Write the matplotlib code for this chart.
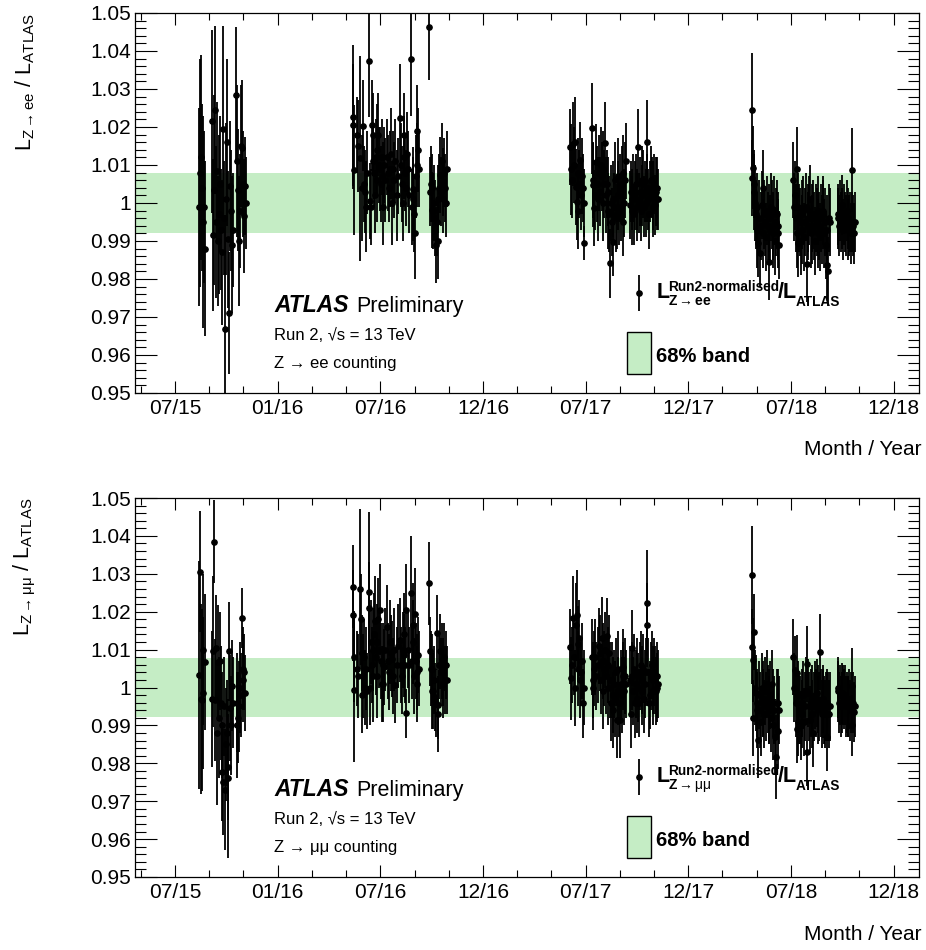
import matplotlib
matplotlib.use('Agg')
import matplotlib.pyplot as plt
from matplotlib.patches import Rectangle

plt.rcParams['font.family'] = ['Liberation Sans', 'DejaVu Sans']
plt.rcParams['mathtext.fontset'] = 'custom'
plt.rcParams['mathtext.rm'] = 'Liberation Sans'
plt.rcParams['mathtext.it'] = 'Liberation Sans'
plt.rcParams['mathtext.bf'] = 'Liberation Sans:bold'

# ---------------- data: (decimal year, ratio, uncertainty) ----------------
ee_2015 = [
    (2015.617, 0.9989, 0.026), (2015.622, 1.0080, 0.030), (2015.627, 1.0120, 0.027),
    (2015.632, 1.0040, 0.022), (2015.636, 0.9950, 0.028), (2015.641, 0.9990, 0.020),
    (2015.646, 0.9880, 0.023), (2015.680, 1.0215, 0.024), (2015.685, 0.9915, 0.020),
    (2015.690, 1.0035, 0.025), (2015.695, 1.0245, 0.022), (2015.700, 0.9950, 0.020),
    (2015.705, 1.0085, 0.018), (2015.709, 0.9900, 0.017), (2015.714, 0.9970, 0.021),
    (2015.719, 1.0050, 0.018), (2015.724, 0.9930, 0.016), (2015.729, 0.9870, 0.019),
    (2015.734, 1.0195, 0.027), (2015.739, 0.9960, 0.015), (2015.744, 0.9668, 0.030),
    (2015.748, 1.0010, 0.020), (2015.753, 1.0160, 0.022), (2015.758, 0.9905, 0.018),
    (2015.763, 0.9710, 0.016), (2015.768, 1.0045, 0.017), (2015.773, 0.9980, 0.016),
    (2015.778, 0.9890, 0.018), (2015.783, 0.9930, 0.015), (2015.797, 1.0283, 0.018),
    (2015.802, 1.0110, 0.020), (2015.807, 1.0035, 0.016), (2015.812, 0.9900, 0.017),
    (2015.817, 0.9980, 0.015), (2015.821, 1.0150, 0.016), (2015.826, 1.0145, 0.018),
    (2015.831, 1.0050, 0.014), (2015.836, 0.9965, 0.015), (2015.841, 1.0045, 0.013),
    (2015.846, 1.0000, 0.012),
]
ee_2016 = [
    (2016.365, 1.0227, 0.019), (2016.369, 1.0205, 0.016), (2016.372, 1.0087, 0.017),
    (2016.385, 1.0179, 0.010), (2016.393, 1.0150, 0.012), (2016.401, 1.0118, 0.027),
    (2016.409, 1.0040, 0.014), (2016.417, 1.0203, 0.012), (2016.422, 1.0050, 0.010),
    (2016.426, 1.0030, 0.011), (2016.430, 0.9990, 0.012), (2016.437, 1.0080, 0.011),
    (2016.445, 1.0375, 0.015), (2016.450, 1.0004, 0.010), (2016.454, 0.9990, 0.010),
    (2016.458, 1.0205, 0.012), (2016.462, 1.0110, 0.010), (2016.466, 1.0180, 0.011),
    (2016.470, 1.0080, 0.009), (2016.474, 1.0020, 0.010), (2016.478, 1.0120, 0.010),
    (2016.482, 1.0060, 0.011), (2016.486, 1.0140, 0.012), (2016.490, 1.0180, 0.011),
    (2016.494, 1.0100, 0.010), (2016.499, 1.0090, 0.011), (2016.503, 1.0050, 0.010),
    (2016.507, 1.0120, 0.010), (2016.511, 1.0070, 0.009), (2016.515, 0.9990, 0.010),
    (2016.520, 1.0100, 0.010), (2016.525, 1.0060, 0.011), (2016.531, 1.0120, 0.010),
    (2016.536, 1.0080, 0.010), (2016.541, 1.0040, 0.009), (2016.547, 1.0090, 0.010),
    (2016.551, 1.0130, 0.012), (2016.556, 1.0000, 0.011), (2016.560, 1.0090, 0.010),
    (2016.565, 1.0060, 0.010), (2016.572, 1.0110, 0.011), (2016.580, 1.0020, 0.012),
    (2016.588, 1.0070, 0.010), (2016.596, 1.0225, 0.014), (2016.600, 1.0100, 0.011),
    (2016.604, 1.0050, 0.010), (2016.609, 1.0000, 0.010), (2016.613, 1.0120, 0.011),
    (2016.617, 1.0180, 0.011), (2016.621, 1.0080, 0.010), (2016.625, 1.0040, 0.010),
    (2016.629, 1.0130, 0.011), (2016.633, 1.0090, 0.010), (2016.641, 1.0020, 0.010),
    (2016.650, 1.0380, 0.015), (2016.654, 0.9990, 0.010), (2016.658, 1.0010, 0.011),
    (2016.661, 1.0038, 0.011), (2016.665, 0.9970, 0.010), (2016.669, 0.9920, 0.012),
    (2016.673, 1.0070, 0.011), (2016.677, 1.0190, 0.012), (2016.681, 1.0100, 0.011),
    (2016.685, 1.0140, 0.011), (2016.689, 1.0090, 0.010), (2016.737, 1.0464, 0.014),
    (2016.742, 1.0030, 0.009), (2016.746, 1.0050, 0.010), (2016.750, 0.9982, 0.010),
    (2016.754, 1.0040, 0.009), (2016.758, 0.9980, 0.010), (2016.762, 1.0000, 0.010),
    (2016.766, 0.9960, 0.010), (2016.770, 0.9890, 0.010), (2016.775, 0.9950, 0.009),
    (2016.779, 1.0010, 0.009), (2016.783, 0.9900, 0.010), (2016.787, 1.0040, 0.009),
    (2016.791, 1.0075, 0.010), (2016.795, 1.0030, 0.009), (2016.799, 1.0110, 0.010),
    (2016.803, 1.0010, 0.009), (2016.807, 1.0055, 0.009), (2016.811, 1.0080, 0.009),
    (2016.815, 1.0040, 0.009), (2016.819, 1.0000, 0.009), (2016.823, 1.0090, 0.010),
]
ee_2017 = [
    (2017.424, 1.0148, 0.010), (2017.428, 1.0089, 0.012), (2017.433, 1.0060, 0.010),
    (2017.440, 1.0155, 0.011), (2017.444, 1.0100, 0.010), (2017.448, 1.0160, 0.012),
    (2017.453, 1.0043, 0.010), (2017.457, 1.0003, 0.010), (2017.461, 1.0080, 0.009),
    (2017.465, 0.9980, 0.010), (2017.469, 1.0050, 0.009), (2017.473, 1.0113, 0.010),
    (2017.478, 1.0020, 0.009), (2017.482, 1.0070, 0.010), (2017.486, 1.0040, 0.009),
    (2017.490, 1.0000, 0.009), (2017.494, 0.9894, 0.0045), (2017.530, 1.0197, 0.012),
    (2017.534, 1.0060, 0.010), (2017.538, 1.0047, 0.011), (2017.543, 0.9986, 0.010),
    (2017.547, 1.0020, 0.009), (2017.551, 1.0109, 0.010), (2017.555, 1.0050, 0.010),
    (2017.560, 1.0010, 0.011), (2017.565, 1.0080, 0.010), (2017.570, 1.0030, 0.009),
    (2017.575, 1.0100, 0.010), (2017.579, 1.0070, 0.009), (2017.583, 1.0000, 0.010),
    (2017.587, 1.0090, 0.010), (2017.591, 1.0050, 0.009), (2017.595, 1.0157, 0.011),
    (2017.599, 1.0020, 0.010), (2017.603, 1.0050, 0.009), (2017.607, 0.9980, 0.010),
    (2017.611, 1.0030, 0.009), (2017.615, 0.9970, 0.010), (2017.619, 0.9841, 0.009),
    (2017.623, 1.0000, 0.010), (2017.627, 0.9950, 0.009), (2017.631, 1.0010, 0.010),
    (2017.635, 0.9898, 0.009), (2017.639, 0.9990, 0.009), (2017.643, 1.0060, 0.010),
    (2017.648, 0.9960, 0.009), (2017.652, 0.9970, 0.009), (2017.656, 1.0020, 0.009),
    (2017.660, 1.0070, 0.010), (2017.664, 0.9980, 0.009), (2017.668, 1.0040, 0.009),
    (2017.672, 0.9990, 0.009), (2017.676, 1.0050, 0.010), (2017.680, 0.9950, 0.009),
    (2017.684, 1.0080, 0.010), (2017.688, 1.0000, 0.009), (2017.692, 1.0060, 0.010),
    (2017.697, 1.0110, 0.010), (2017.716, 0.9995, 0.009), (2017.720, 1.0030, 0.008),
    (2017.724, 0.9980, 0.009), (2017.728, 1.0010, 0.008), (2017.732, 1.0040, 0.009),
    (2017.736, 0.9970, 0.008), (2017.740, 1.0020, 0.009), (2017.744, 1.0050, 0.008),
    (2017.748, 0.9990, 0.009), (2017.752, 1.0010, 0.008), (2017.757, 1.0147, 0.010),
    (2017.761, 1.0000, 0.008), (2017.765, 1.0030, 0.009), (2017.769, 0.9980, 0.008),
    (2017.773, 1.0060, 0.009), (2017.777, 1.0020, 0.008), (2017.781, 1.0050, 0.009),
    (2017.785, 0.9990, 0.008), (2017.790, 1.0030, 0.008), (2017.794, 1.0000, 0.009),
    (2017.798, 1.0161, 0.011), (2017.801, 1.0040, 0.009), (2017.805, 1.0010, 0.008),
    (2017.809, 0.9970, 0.009), (2017.813, 1.0030, 0.008), (2017.818, 1.0060, 0.009),
    (2017.822, 1.0040, 0.008), (2017.826, 0.9990, 0.008), (2017.830, 1.0020, 0.009),
    (2017.834, 1.0050, 0.008), (2017.838, 0.9995, 0.008), (2017.842, 1.0030, 0.009),
    (2017.846, 1.0010, 0.008), (2017.850, 1.0040, 0.008), (2017.854, 1.0010, 0.008),
]
ee_2018 = [
    (2018.309, 1.0065, 0.010), (2018.312, 1.0245, 0.015), (2018.314, 1.0093, 0.011),
    (2018.318, 1.0030, 0.010), (2018.321, 1.0050, 0.009), (2018.325, 1.0000, 0.010),
    (2018.329, 0.9970, 0.009), (2018.333, 0.9930, 0.010), (2018.337, 0.9990, 0.009),
    (2018.341, 0.9895, 0.009), (2018.345, 0.9960, 0.010), (2018.350, 0.9868, 0.009),
    (2018.354, 0.9940, 0.009), (2018.358, 0.9995, 0.009), (2018.362, 0.9920, 0.009),
    (2018.366, 1.0040, 0.010), (2018.370, 0.9970, 0.009), (2018.374, 0.9950, 0.009),
    (2018.378, 0.9910, 0.009), (2018.383, 0.9980, 0.009), (2018.387, 0.9940, 0.009),
    (2018.391, 0.9960, 0.009), (2018.395, 0.9846, 0.010), (2018.399, 0.9930, 0.009),
    (2018.403, 0.9990, 0.009), (2018.407, 0.9970, 0.009), (2018.411, 0.9920, 0.009),
    (2018.414, 0.9940, 0.009), (2018.418, 0.9980, 0.009), (2018.423, 0.9900, 0.009),
    (2018.427, 0.9950, 0.009), (2018.431, 0.9970, 0.009), (2018.435, 0.9920, 0.009),
    (2018.439, 0.9940, 0.009), (2018.443, 0.9890, 0.009), (2018.512, 1.0061, 0.010),
    (2018.516, 0.9990, 0.009), (2018.520, 1.0020, 0.009), (2018.524, 0.9960, 0.009),
    (2018.528, 0.9920, 0.009), (2018.531, 1.0090, 0.011), (2018.533, 0.9895, 0.009),
    (2018.536, 0.9990, 0.009), (2018.540, 0.9960, 0.009), (2018.544, 0.9950, 0.009),
    (2018.548, 0.9900, 0.009), (2018.552, 0.9970, 0.009), (2018.556, 0.9930, 0.009),
    (2018.560, 0.9980, 0.009), (2018.565, 0.9910, 0.009), (2018.569, 0.9950, 0.009),
    (2018.573, 0.9990, 0.009), (2018.577, 0.9840, 0.010), (2018.581, 0.9960, 0.009),
    (2018.585, 0.9940, 0.009), (2018.589, 0.9980, 0.009), (2018.593, 1.0010, 0.009),
    (2018.597, 0.9920, 0.009), (2018.601, 0.9960, 0.009), (2018.605, 0.9930, 0.009),
    (2018.609, 0.9970, 0.009), (2018.613, 0.9940, 0.009), (2018.617, 0.9900, 0.009),
    (2018.622, 0.9960, 0.009), (2018.626, 0.9950, 0.009), (2018.630, 0.9920, 0.009),
    (2018.634, 0.9980, 0.009), (2018.638, 0.9940, 0.009), (2018.642, 0.9910, 0.009),
    (2018.646, 0.9960, 0.009), (2018.650, 0.9930, 0.009), (2018.654, 0.9980, 0.009),
    (2018.658, 0.9970, 0.009), (2018.662, 0.9920, 0.009), (2018.666, 0.9950, 0.009),
    (2018.670, 0.9890, 0.009), (2018.674, 0.9837, 0.009), (2018.678, 0.9930, 0.009),
    (2018.682, 0.9820, 0.009), (2018.686, 0.9960, 0.009), (2018.690, 0.9950, 0.009),
    (2018.727, 0.9960, 0.008), (2018.731, 0.9970, 0.008), (2018.735, 0.9940, 0.008),
    (2018.739, 0.9980, 0.008), (2018.743, 0.9950, 0.008), (2018.747, 0.9995, 0.008),
    (2018.751, 0.9960, 0.008), (2018.756, 0.9930, 0.008), (2018.760, 0.9970, 0.008),
    (2018.764, 0.9950, 0.008), (2018.768, 0.9940, 0.008), (2018.772, 0.9980, 0.008),
    (2018.776, 0.9930, 0.008), (2018.780, 0.9960, 0.008), (2018.784, 0.9940, 0.008),
    (2018.788, 0.9950, 0.008), (2018.792, 0.9920, 0.008), (2018.796, 1.0087, 0.011),
    (2018.800, 0.9950, 0.008), (2018.804, 0.9940, 0.008), (2018.808, 0.9920, 0.008),
    (2018.812, 0.9950, 0.008),
]

mm_2015 = [
    (2015.619, 1.0033, 0.030), (2015.622, 1.0306, 0.016), (2015.626, 0.9970, 0.025),
    (2015.630, 0.9967, 0.024), (2015.634, 1.0100, 0.020), (2015.638, 0.9985, 0.020),
    (2015.646, 1.0068, 0.018), (2015.682, 0.9970, 0.018), (2015.687, 1.0095, 0.020),
    (2015.690, 1.0385, 0.011), (2015.695, 0.9967, 0.016), (2015.700, 1.0105, 0.014),
    (2015.705, 0.9880, 0.019), (2015.711, 1.0067, 0.015), (2015.715, 0.9920, 0.016),
    (2015.719, 1.0070, 0.013), (2015.723, 0.9960, 0.015), (2015.727, 0.9778, 0.013),
    (2015.731, 0.9900, 0.014), (2015.735, 0.9750, 0.014), (2015.740, 0.9950, 0.013),
    (2015.744, 0.9730, 0.016), (2015.748, 0.9850, 0.015), (2015.752, 0.9880, 0.014),
    (2015.756, 0.9790, 0.014), (2015.760, 0.9760, 0.021), (2015.765, 1.0095, 0.013),
    (2015.768, 0.9945, 0.014), (2015.772, 0.9900, 0.013), (2015.776, 1.0005, 0.012),
    (2015.780, 0.9960, 0.012), (2015.800, 0.9900, 0.014), (2015.804, 0.9960, 0.013),
    (2015.808, 0.9920, 0.012), (2015.813, 0.9950, 0.012), (2015.817, 1.0000, 0.012),
    (2015.821, 0.9980, 0.011), (2015.825, 1.0183, 0.008), (2015.829, 1.0050, 0.011),
    (2015.833, 1.0020, 0.011), (2015.837, 1.0040, 0.010), (2015.841, 0.9985, 0.010),
]
mm_2016 = [
    (2016.365, 1.0266, 0.011), (2016.369, 1.0190, 0.012), (2016.372, 1.0081, 0.012),
    (2016.374, 0.9993, 0.019), (2016.385, 1.0050, 0.010), (2016.393, 1.0030, 0.011),
    (2016.401, 1.0260, 0.021), (2016.405, 1.0180, 0.012), (2016.409, 1.0090, 0.010),
    (2016.413, 0.9980, 0.010), (2016.417, 1.0030, 0.011), (2016.421, 1.0080, 0.010),
    (2016.425, 1.0000, 0.010), (2016.430, 1.0050, 0.011), (2016.437, 0.9990, 0.010),
    (2016.445, 1.0252, 0.021), (2016.447, 1.0210, 0.012), (2016.450, 1.0000, 0.010),
    (2016.454, 1.0120, 0.011), (2016.458, 1.0060, 0.010), (2016.462, 1.0030, 0.012),
    (2016.466, 1.0100, 0.011), (2016.470, 1.0140, 0.011), (2016.474, 1.0175, 0.012),
    (2016.478, 1.0080, 0.010), (2016.482, 1.0030, 0.011), (2016.486, 1.0120, 0.010),
    (2016.490, 1.0180, 0.011), (2016.494, 1.0100, 0.010), (2016.499, 1.0205, 0.012),
    (2016.503, 1.0070, 0.010), (2016.507, 1.0010, 0.010), (2016.511, 1.0060, 0.011),
    (2016.515, 1.0010, 0.010), (2016.520, 1.0055, 0.010), (2016.525, 1.0100, 0.011),
    (2016.531, 1.0160, 0.011), (2016.536, 1.0070, 0.010), (2016.541, 1.0040, 0.010),
    (2016.547, 1.0120, 0.011), (2016.551, 1.0090, 0.010), (2016.556, 1.0075, 0.010),
    (2016.560, 1.0030, 0.010), (2016.565, 1.0100, 0.011), (2016.572, 1.0007, 0.010),
    (2016.580, 1.0060, 0.010), (2016.588, 1.0110, 0.011), (2016.596, 1.0125, 0.011),
    (2016.600, 1.0060, 0.010), (2016.604, 1.0030, 0.010), (2016.609, 1.0100, 0.010),
    (2016.613, 1.0085, 0.011), (2016.617, 1.0140, 0.011), (2016.621, 1.0060, 0.010),
    (2016.625, 1.0205, 0.012), (2016.627, 0.9932, 0.0065), (2016.633, 1.0100, 0.010),
    (2016.641, 1.0060, 0.010), (2016.650, 1.0250, 0.015), (2016.654, 1.0070, 0.010),
    (2016.658, 1.0120, 0.011), (2016.661, 1.0165, 0.011), (2016.665, 1.0030, 0.010),
    (2016.669, 1.0195, 0.012), (2016.673, 1.0070, 0.010), (2016.677, 1.0040, 0.010),
    (2016.681, 1.0010, 0.010), (2016.685, 1.0085, 0.010), (2016.689, 1.0050, 0.010),
    (2016.737, 1.0275, 0.011), (2016.742, 1.0095, 0.009), (2016.746, 1.0050, 0.010),
    (2016.750, 1.0050, 0.009), (2016.754, 0.9990, 0.010), (2016.758, 0.9990, 0.010),
    (2016.762, 1.0020, 0.009), (2016.766, 0.9975, 0.009), (2016.770, 0.9960, 0.009),
    (2016.775, 1.0145, 0.010), (2016.779, 0.9955, 0.009), (2016.783, 0.9930, 0.010),
    (2016.787, 1.0060, 0.009), (2016.791, 1.0095, 0.010), (2016.795, 1.0040, 0.009),
    (2016.799, 1.0070, 0.010), (2016.803, 1.0010, 0.009), (2016.807, 1.0040, 0.009),
    (2016.811, 1.0080, 0.009), (2016.815, 1.0020, 0.009), (2016.819, 1.0060, 0.009),
    (2016.823, 1.0020, 0.009),
]
mm_2017 = [
    (2017.424, 1.0108, 0.010), (2017.428, 1.0024, 0.011), (2017.433, 1.0060, 0.010),
    (2017.440, 1.0183, 0.011), (2017.444, 1.0080, 0.010), (2017.448, 0.9999, 0.010),
    (2017.453, 1.0165, 0.011), (2017.457, 1.0190, 0.012), (2017.461, 1.0050, 0.010),
    (2017.465, 1.0115, 0.010), (2017.469, 1.0130, 0.010), (2017.473, 1.0020, 0.010),
    (2017.478, 1.0040, 0.009), (2017.482, 1.0070, 0.010), (2017.486, 0.9958, 0.009),
    (2017.490, 1.0000, 0.010), (2017.530, 1.0080, 0.010), (2017.534, 1.0020, 0.010),
    (2017.538, 0.9999, 0.011), (2017.543, 1.0050, 0.010), (2017.547, 1.0080, 0.010),
    (2017.551, 1.0030, 0.009), (2017.560, 1.0060, 0.010), (2017.565, 1.0110, 0.010),
    (2017.570, 1.0090, 0.010), (2017.575, 1.0020, 0.009), (2017.579, 1.0130, 0.011),
    (2017.583, 1.0070, 0.010), (2017.587, 0.9990, 0.010), (2017.591, 1.0050, 0.010),
    (2017.595, 1.0100, 0.010), (2017.599, 1.0030, 0.010), (2017.603, 1.0135, 0.010),
    (2017.607, 1.0000, 0.010), (2017.611, 1.0060, 0.010), (2017.615, 1.0090, 0.010),
    (2017.619, 1.0020, 0.010), (2017.623, 0.9960, 0.010), (2017.627, 1.0020, 0.010),
    (2017.631, 0.9980, 0.010), (2017.635, 0.9940, 0.010), (2017.639, 1.0010, 0.009),
    (2017.643, 0.9970, 0.010), (2017.648, 1.0040, 0.009), (2017.652, 0.9915, 0.010),
    (2017.656, 0.9990, 0.009), (2017.660, 1.0050, 0.010), (2017.664, 0.9960, 0.009),
    (2017.668, 0.9915, 0.010), (2017.672, 1.0010, 0.009), (2017.676, 0.9980, 0.010),
    (2017.680, 1.0030, 0.009), (2017.684, 1.0055, 0.010), (2017.688, 0.9990, 0.009),
    (2017.692, 1.0030, 0.010), (2017.697, 1.0010, 0.009), (2017.716, 1.0020, 0.009),
    (2017.720, 0.9930, 0.009), (2017.724, 1.0105, 0.010), (2017.728, 1.0030, 0.009),
    (2017.732, 0.9990, 0.009), (2017.736, 1.0050, 0.009), (2017.740, 0.9958, 0.009),
    (2017.744, 1.0010, 0.009), (2017.748, 0.9970, 0.009), (2017.752, 1.0040, 0.009),
    (2017.757, 1.0000, 0.009), (2017.761, 0.9960, 0.009), (2017.765, 1.0030, 0.009),
    (2017.769, 1.0060, 0.009), (2017.773, 0.9990, 0.009), (2017.777, 1.0020, 0.009),
    (2017.781, 1.0050, 0.009), (2017.785, 0.9970, 0.009), (2017.790, 1.0010, 0.009),
    (2017.794, 1.0040, 0.009), (2017.798, 1.0222, 0.014), (2017.800, 1.0165, 0.011),
    (2017.805, 1.0040, 0.009), (2017.809, 0.9960, 0.009), (2017.813, 0.9980, 0.009),
    (2017.818, 1.0030, 0.009), (2017.822, 1.0060, 0.009), (2017.826, 0.9990, 0.009),
    (2017.830, 1.0020, 0.009), (2017.834, 1.0040, 0.009), (2017.838, 1.0020, 0.009),
    (2017.842, 0.9990, 0.009), (2017.846, 1.0030, 0.009), (2017.850, 1.0000, 0.009),
    (2017.854, 1.0010, 0.009),
]
mm_2018 = [
    (2018.309, 1.0108, 0.010), (2018.312, 1.0297, 0.013), (2018.314, 1.0073, 0.011),
    (2018.316, 0.9920, 0.010), (2018.321, 1.0147, 0.010), (2018.325, 1.0000, 0.010),
    (2018.329, 0.9985, 0.010), (2018.333, 0.9940, 0.010), (2018.337, 0.9960, 0.009),
    (2018.341, 0.9862, 0.010), (2018.345, 0.9980, 0.009), (2018.350, 0.9940, 0.010),
    (2018.354, 0.9910, 0.009), (2018.358, 1.0000, 0.009), (2018.362, 0.9960, 0.009),
    (2018.366, 0.9970, 0.010), (2018.370, 0.9930, 0.009), (2018.374, 0.9990, 0.009),
    (2018.378, 0.9950, 0.009), (2018.383, 1.0010, 0.009), (2018.387, 0.9970, 0.009),
    (2018.391, 0.9940, 0.009), (2018.395, 0.9950, 0.010), (2018.399, 0.9980, 0.009),
    (2018.403, 0.9920, 0.009), (2018.407, 1.0010, 0.009), (2018.411, 0.9960, 0.009),
    (2018.414, 0.9900, 0.009), (2018.418, 0.9940, 0.009), (2018.423, 0.9870, 0.010),
    (2018.427, 0.9817, 0.011), (2018.431, 0.9960, 0.009), (2018.435, 0.9958, 0.009),
    (2018.439, 0.9885, 0.010), (2018.443, 0.9940, 0.009), (2018.512, 1.0080, 0.010),
    (2018.516, 1.0000, 0.009), (2018.520, 1.0045, 0.009), (2018.524, 0.9960, 0.009),
    (2018.528, 0.9890, 0.009), (2018.531, 1.0038, 0.010), (2018.533, 0.9908, 0.009),
    (2018.536, 0.9980, 0.009), (2018.540, 0.9940, 0.009), (2018.544, 0.9940, 0.009),
    (2018.548, 0.9900, 0.009), (2018.552, 0.9960, 0.009), (2018.556, 0.9930, 0.009),
    (2018.560, 0.9980, 0.009), (2018.565, 0.9910, 0.009), (2018.569, 0.9950, 0.009),
    (2018.573, 0.9990, 0.009), (2018.577, 1.0063, 0.010), (2018.579, 0.9830, 0.009),
    (2018.585, 0.9985, 0.009), (2018.589, 0.9950, 0.009), (2018.593, 0.9915, 0.009),
    (2018.597, 0.9960, 0.009), (2018.601, 0.9930, 0.009), (2018.605, 0.9970, 0.009),
    (2018.609, 0.9880, 0.009), (2018.613, 0.9950, 0.009), (2018.617, 0.9980, 0.009),
    (2018.622, 0.9960, 0.009), (2018.626, 0.9985, 0.009), (2018.630, 0.9940, 0.009),
    (2018.634, 0.9970, 0.009), (2018.638, 0.9950, 0.009), (2018.642, 1.0093, 0.010),
    (2018.646, 0.9960, 0.009), (2018.650, 0.9930, 0.009), (2018.654, 0.9958, 0.009),
    (2018.658, 0.9970, 0.009), (2018.662, 0.9940, 0.009), (2018.666, 0.9930, 0.009),
    (2018.670, 0.9950, 0.009), (2018.674, 0.9870, 0.009), (2018.678, 0.9960, 0.009),
    (2018.682, 0.9950, 0.009), (2018.686, 0.9930, 0.009), (2018.690, 0.9950, 0.009),
    (2018.727, 0.9990, 0.008), (2018.731, 1.0000, 0.008), (2018.735, 0.9960, 0.008),
    (2018.739, 0.9980, 0.008), (2018.743, 0.9950, 0.008), (2018.747, 0.9985, 0.008),
    (2018.751, 0.9960, 0.008), (2018.756, 0.9980, 0.008), (2018.760, 0.9970, 0.008),
    (2018.764, 0.9980, 0.008), (2018.768, 0.9950, 0.008), (2018.772, 0.9960, 0.008),
    (2018.776, 0.9950, 0.008), (2018.780, 0.9950, 0.008), (2018.784, 0.9970, 0.008),
    (2018.788, 0.9940, 0.008), (2018.792, 0.9960, 0.008), (2018.796, 1.0005, 0.010),
    (2018.800, 0.9900, 0.008), (2018.804, 0.9960, 0.008), (2018.808, 0.9935, 0.008),
    (2018.812, 0.9950, 0.008),
]

band_ee = 0.0080   # 68% band half-width
band_mm = 0.0077

x_ticks = [2015.5, 2016.0, 2016.5, 2017.0, 2017.5, 2018.0, 2018.5, 2019.0]
x_tick_labels = ['07/15', '01/16', '07/16', '12/16', '07/17', '12/17', '07/18', '12/18']
y_ticks = [0.95, 0.96, 0.97, 0.98, 0.99, 1.00, 1.01, 1.02, 1.03, 1.04, 1.05]
y_tick_labels = ['0.95', '0.96', '0.97', '0.98', '0.99', '1', '1.01', '1.02', '1.03', '1.04', '1.05']

BAND_COLOR = '#c5edc5'

# ---------------- figure ----------------
W, H = 926, 950
fig = plt.figure(figsize=(W / 100, H / 100), dpi=100)
ax_top = fig.add_axes([135 / W, 1 - 393 / H, 784 / W, 380 / H])
ax_bot = fig.add_axes([135 / W, 1 - 877 / H, 784 / W, 379 / H])


def draw_panel(ax, years, band, sub_leg, chan_text, ylabel, ylabel_top_px):
    ax.axhspan(1 - band, 1 + band, color=BAND_COLOR, lw=0, zorder=0)
    for rows in years:
        xs = [r[0] for r in rows]
        ys = [r[1] for r in rows]
        es = [r[2] for r in rows]
        ax.errorbar(xs, ys, yerr=es, fmt='o', color='black', ms=3.8,
                    elinewidth=1.3, capsize=0, zorder=3)
    ax.set_xlim(2015.305, 2019.124)
    ax.set_ylim(0.95, 1.05)

    ax.set_xticks(x_ticks)
    ax.set_xticklabels(x_tick_labels)
    ax.set_xticks([2015.5 + k / 6.0 for k in range(-1, 22)], minor=True)
    ax.set_yticks(y_ticks)
    ax.set_yticklabels(y_tick_labels)
    ax.set_yticks([0.95 + 0.002 * k for k in range(51)], minor=True)

    ax.tick_params(axis='both', which='both', direction='in', top=True, right=True,
                   width=0.8, labelsize=15, color='black')
    ax.tick_params(axis='y', which='major', length=15.5, pad=3)
    ax.tick_params(axis='y', which='minor', length=8)
    ax.tick_params(axis='x', which='major', length=8.5, pad=4)
    ax.tick_params(axis='x', which='minor', length=5)
    for s in ax.spines.values():
        s.set_linewidth(0.9)

    # ATLAS label
    ax.text(0.1773, 0.2132, 'ATLAS', transform=ax.transAxes, fontsize=16.5,
            fontweight='bold', fontstyle='italic', va='baseline', ha='left')
    ax.text(0.2819, 0.2132, 'Preliminary', transform=ax.transAxes, fontsize=15.5,
            va='baseline', ha='left')
    ax.text(0.1773, 0.1395, 'Run 2, \u221As = 13 TeV', transform=ax.transAxes,
            fontsize=12, va='baseline', ha='left')
    ax.text(0.1773, 0.0658, chan_text, transform=ax.transAxes,
            fontsize=12, va='baseline', ha='left')

    # legend: marker with error bar
    ax.errorbar([0.6429], [0.2632], yerr=[0.0474], fmt='o', color='black', ms=3.8,
                elinewidth=1.3, capsize=0, transform=ax.transAxes, clip_on=False, zorder=4)
    ax.text(0.6658, 0.25, 'L', transform=ax.transAxes, fontsize=15.5,
            fontweight='bold', va='baseline', ha='left')
    ax.text(0.6798, 0.2684, 'Run2-normalised', transform=ax.transAxes, fontsize=9.8,
            fontweight='bold', va='baseline', ha='left')
    ax.text(0.6798, 0.2316, sub_leg, transform=ax.transAxes, fontsize=10,
            va='baseline', ha='left')
    ax.text(0.8202, 0.25, '/L', transform=ax.transAxes, fontsize=15.5,
            fontweight='bold', va='baseline', ha='left')
    ax.text(0.8431, 0.2289, 'ATLAS', transform=ax.transAxes, fontsize=9.8,
            fontweight='bold', va='baseline', ha='left')

    # legend: band box
    ax.add_patch(Rectangle((0.6276, 0.05), 0.0306, 0.1105, transform=ax.transAxes,
                           facecolor=BAND_COLOR, edgecolor='black', lw=1.0, zorder=4))
    ax.text(0.6645, 0.0816, '68% band', transform=ax.transAxes, fontsize=14.5,
            fontweight='bold', va='baseline', ha='left')

    # axis titles
    fig.text(25 / W, 1 - ylabel_top_px / H, ylabel, rotation=90, ha='center',
             va='top', fontsize=15.5)
    bottom_px = ylabel_top_px + 380
    fig.text(922 / W, 1 - (bottom_px + 62) / H, 'Month / Year', ha='right',
             va='baseline', fontsize=15)


draw_panel(ax_top, [ee_2015, ee_2016, ee_2017, ee_2018], band_ee,
           r'$\mathbf{Z}\rightarrow\mathbf{ee}$', 'Z \u2192 ee counting',
           r'$\mathrm{L_{Z\rightarrow ee}\ /\ L_{ATLAS}}$', 13)
draw_panel(ax_bot, [mm_2015, mm_2016, mm_2017, mm_2018], band_mm,
           r'$\mathbf{Z}\rightarrow\mu\mu$', 'Z \u2192 \u03bc\u03bc counting',
           r'$\mathrm{L_{Z\rightarrow \mu\mu}\ /\ L_{ATLAS}}$', 498)

fig.savefig('out.png', dpi=100)
